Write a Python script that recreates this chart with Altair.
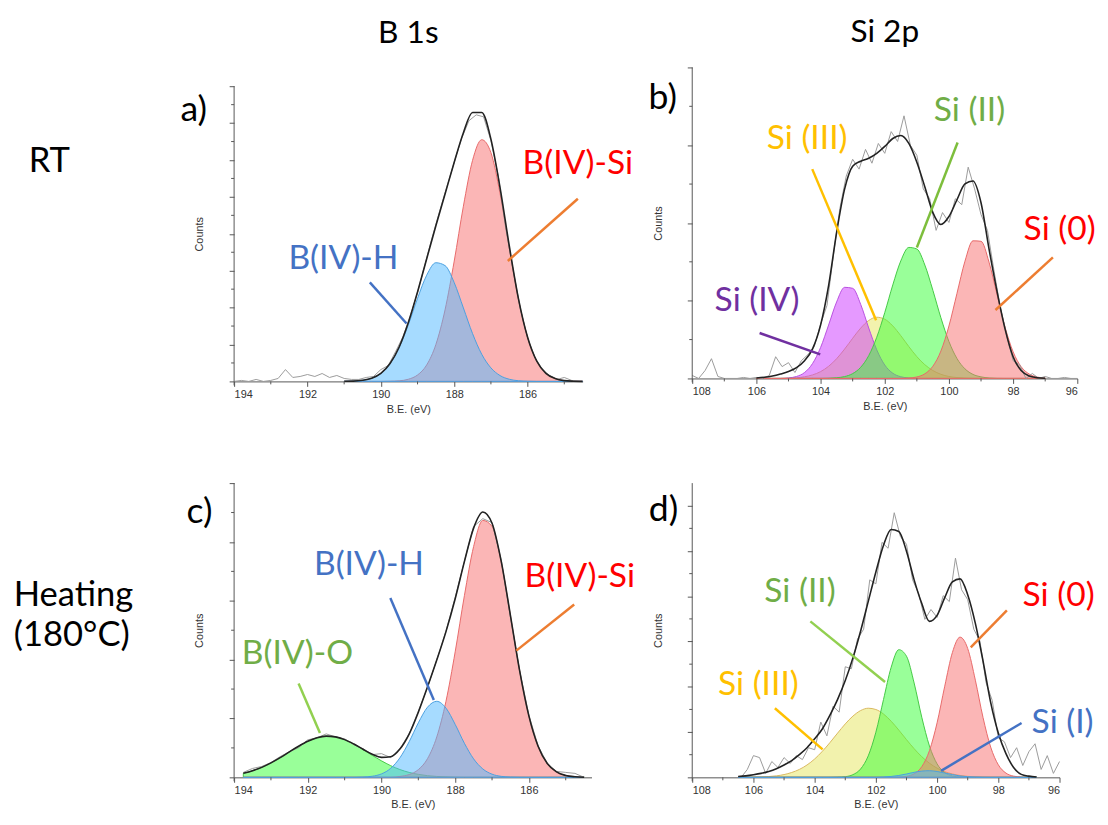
import altair as alt
import pandas as pd

FONT = "Lato"
AXF = "Liberation Sans"

# ---------------- Panel a : B 1s, RT ----------------
A_E = [191.0, 190.75, 190.5, 190.25, 190.0, 189.75, 189.5, 189.25, 189.0, 188.75, 188.5, 188.25, 188.0,
       187.75, 187.5, 187.25, 187.0, 186.75, 186.5, 186.25, 186.0, 185.75, 185.5, 185.25, 185.0, 184.75, 184.5]
A_BSI = [0, 0, 0, 0, 0, 0.2, 0.6, 2.2, 6.5, 16.7, 37.4, 72.5, 121.9, 177.5, 223.9, 244.8, 231.7, 190.1,
         135.2, 83.2, 44.5, 20.5, 8.2, 2.9, 0.8, 0.2, 0]
A_BH = [0.1, 0.3, 1.1, 3.2, 8.1, 17.9, 34.3, 57.4, 84.1, 107.6, 120.2, 117.3, 100.0, 74.4, 48.4, 27.5,
        13.7, 5.9, 2.2, 0.7, 0.2, 0, 0, 0, 0, 0, 0]
A_FIT = [0.2, 0.3, 1.1, 3.2, 8.1, 18.1, 34.9, 59.6, 90.6, 124.3, 157.6, 189.8, 221.9, 251.9, 272.3, 272.3,
         245.4, 196.0, 137.4, 83.9, 44.7, 20.5, 8.2, 2.9, 0.8, 0.2, 0]
A_RAW_E = [194.0, 193.8, 193.6, 193.4, 193.2, 193.0, 192.8, 192.6, 192.4, 192.2, 192.0, 191.8, 191.6, 191.4,
           191.2, 191.0, 190.8, 190.6, 190.4, 190.2, 190.0, 189.8, 189.6, 189.4, 189.2, 189.0, 188.8, 188.6,
           188.4, 188.2, 188.0, 187.8, 187.6, 187.4, 187.2, 187.0, 186.8, 186.6, 186.4, 186.2, 186.0, 185.8,
           185.6, 185.4, 185.2, 185.0, 184.8, 184.6]
A_RAW = [0, 1, 0, 2, 0, 1, 3, 12, 4, 5, 7, 5, 8, 4, 6, 3, 2, 2, 4, 5, 12, 16, 30, 45, 66, 90, 118, 146, 172,
         197, 222, 246, 264, 270, 268, 244, 208, 156, 114, 74, 44, 24, 12, 6, 2, 4, 1, 0]

# ---------------- Panel c : B 1s, heating ----------------
C_E = [193.75, 193.5, 193.25, 193.0, 192.75, 192.5, 192.25, 192.0, 191.75, 191.5, 191.25, 191.0, 190.75,
       190.5, 190.25, 190.0, 189.75, 189.5, 189.25, 189.0, 188.75, 188.5, 188.25, 188.0, 187.75, 187.5,
       187.25, 187.0, 186.75, 186.5, 186.25, 186.0, 185.75, 185.5, 185.25, 185.0, 184.75, 184.5]
C_BO = [4.1, 6.7, 10.1, 14.6, 19.9, 25.8, 31.5, 36.5, 40.1, 41.7, 41.0, 38.2, 33.7, 28.1, 22.2, 16.7, 11.8,
        7.9, 5.0, 3.0, 1.7, 0.9, 0.5, 0.2, 0, 0, 0, 0, 0, 0, 0, 0, 0, 0, 0, 0, 0, 0]
C_BH = [0, 0, 0, 0, 0, 0, 0, 0, 0, 0, 0, 0, 0, 0.3, 1.1, 3.5, 9.1, 19.8, 36.0, 55.2, 71.1, 77.0, 70.1, 53.6,
        34.5, 18.7, 8.5, 3.2, 1.0, 0.3, 0.1, 0, 0, 0, 0, 0, 0, 0]
C_BSI = [0, 0, 0, 0, 0, 0, 0, 0, 0, 0, 0, 0, 0, 0, 0, 0, 0, 0.9, 2.8, 7.8, 19.0, 40.9, 77.0, 127.1, 184.0,
         233.7, 260.2, 254.2, 217.7, 163.5, 107.7, 62.2, 31.5, 14.0, 5.5, 1.9, 0.6, 0.1]
C_FIT = [4.1, 6.7, 10.1, 14.6, 19.9, 25.8, 31.5, 36.5, 40.1, 41.7, 41.0, 38.2, 33.7, 28.4, 23.3, 20.2, 20.9,
         28.6, 43.8, 66.0, 91.8, 118.8, 147.6, 180.9, 218.5, 252.4, 268.7, 257.4, 218.7, 163.8, 107.8, 62.2,
         31.5, 14.0, 5.5, 1.9, 0.6, 0.1]
C_RAW = [5, 9, 11, 15, 21, 26, 30, 38, 40, 44, 41, 39, 33, 29, 23, 24, 20, 29, 44, 67, 91, 119, 148, 182,
         219, 254, 262, 258, 220, 162, 108, 63, 32, 14, 6, 5, 4, 0]

# ---------------- Panel b : Si 2p, RT ----------------
B_E = [106.0, 105.75, 105.5, 105.25, 105.0, 104.75, 104.5, 104.25, 104.0, 103.75, 103.5, 103.25, 103.0,
       102.75, 102.5, 102.25, 102.0, 101.75, 101.5, 101.25, 101.0, 100.75, 100.5, 100.25, 100.0, 99.75,
       99.5, 99.25, 99.0, 98.75, 98.5, 98.25, 98.0, 97.75, 97.5, 97.25, 97.0]
B_S0 = [0] * 19 + [0.4, 1.5, 4.7, 12.4, 27.8, 53.1, 86.1, 118.8, 139.4, 138.9, 117.7, 84.8, 51.9, 27.0,
                   11.9, 4.5, 1.4, 0.4]
B_S2 = [0] * 9 + [0.2, 0.7, 1.9, 4.9, 11.3, 23.1, 41.7, 66.7, 94.7, 119.1, 132.7, 131.1, 114.8, 89.2, 61.4,
                  37.4, 20.2, 9.7, 4.1, 1.6, 0.5, 0.1] + [0] * 6
B_S4 = [0] * 4 + [0.5, 2.0, 6.0, 15.1, 31.3, 54.1, 77.5, 92.3, 91.3, 75.0, 51.1, 29.0, 13.6, 5.3, 1.7, 0.5,
                  0.1] + [0] * 16
B_S3 = [0] * 4 + [0.3, 0.7, 1.7, 3.6, 6.9, 12.3, 20.0, 29.8, 40.7, 51.0, 58.7, 62.0, 60.0, 53.2, 43.3, 32.3,
                  22.1, 13.9, 8.0, 4.2, 2.0, 0.9, 0.4, 0.1] + [0] * 9
B_FIT = [0.5, 1.2, 2.5, 4.5, 7, 11, 18, 30, 54, 94, 148, 192, 215, 220, 223, 228, 235, 243, 246, 238, 219,
         194, 168, 156, 164, 181, 197, 200, 178, 131, 88, 50, 22, 8, 2.5, 0.8, 0.2]
B_RAW_E = [108.0, 107.8, 107.6, 107.4, 107.2, 107.0, 106.8, 106.6, 106.4, 106.2, 106.0, 105.8, 105.6, 105.4,
           105.2, 105.0, 104.8, 104.6, 104.4, 104.2, 104.0, 103.8, 103.6, 103.4, 103.2, 103.0, 102.8, 102.6,
           102.4, 102.2, 102.0, 101.8, 101.6, 101.4, 101.2, 101.0, 100.8, 100.6, 100.4, 100.2, 100.0, 99.8,
           99.6, 99.4, 99.2, 99.0, 98.8, 98.6, 98.4, 98.2, 98.0, 97.8, 97.6, 97.4, 97.2, 97.0, 96.8, 96.6,
           96.4, 96.2, 96.0]
B_RAW = [3, 0, 8, 20, 2, 0, 0, 0, 1, 0, 1, 0, 3, 22, 12, 16, 6, 18, 24, 32, 55, 74, 125, 172, 205, 222, 212,
         232, 218, 238, 228, 250, 240, 266, 236, 226, 192, 182, 150, 168, 158, 182, 176, 214, 192, 166, 150,
         110, 72, 44, 18, 14, 0, 5, 0, 2, 0, 0, 1, 0, 0]

# ---------------- Panel d : Si 2p, heating ----------------
D_E = [106.5, 106.25, 106.0, 105.75, 105.5, 105.25, 105.0, 104.75, 104.5, 104.25, 104.0, 103.75, 103.5,
       103.25, 103.0, 102.75, 102.5, 102.25, 102.0, 101.75, 101.5, 101.25, 101.0, 100.75, 100.5, 100.25,
       100.0, 99.75, 99.5, 99.25, 99.0, 98.75, 98.5, 98.25, 98.0, 97.75, 97.5, 97.25, 97.0, 96.75]
D_S0 = [0] * 21 + [0.2, 1.0, 3.6, 10.8, 27.0, 55.2, 92.3, 126.4, 142.0, 130.5, 98.4, 60.7, 30.7, 12.7, 4.3,
                   1.2, 0.3] + [0, 0]
D_S2 = [0] * 13 + [0.2, 0.7, 2.7, 8.4, 21.7, 45.7, 78.9, 111.5, 129.3, 122.7, 95.5, 60.8, 31.8, 13.6, 4.8,
                   1.4, 0.3] + [0] * 10
D_S3 = [0, 0.1, 0.2, 0.4, 0.8, 1.5, 2.8, 4.9, 8.0, 12.5, 18.6, 26.3, 35.2, 44.8, 54.1, 62.0, 67.6, 70.0, 68.7,
        64.1, 56.8, 47.8, 38.2, 29.0, 20.9, 14.3, 9.3, 5.7, 3.4, 1.9, 1.0, 0.5, 0.2] + [0] * 7
D_S1 = [0] * 19 + [0.4, 0.9, 1.9, 3.4, 5.1, 6.3, 6.7, 5.9, 4.4, 2.8, 1.4, 0.6, 0.3, 0.1] + [0] * 7
D_FIT = [0.8, 1.5, 2.6, 4.0, 6.0, 8.8, 12.5, 17, 23, 30, 39, 49, 63, 79, 98, 121, 148, 178, 208, 235, 251,
         249, 229, 200, 176, 158, 164, 182, 198, 201, 185, 156, 118, 76, 45, 24, 10, 3, 1.2, 0.4]
D_RAW_E = [106.4, 106.2, 106.0, 105.8, 105.6, 105.4, 105.2, 105.0, 104.8, 104.6, 104.4, 104.2, 104.0, 103.8,
           103.6, 103.4, 103.2, 103.0, 102.8, 102.6, 102.4, 102.2, 102.0, 101.8, 101.6, 101.4, 101.2, 101.0,
           100.8, 100.6, 100.4, 100.2, 100.0, 99.8, 99.6, 99.4, 99.2, 99.0, 98.8, 98.6, 98.4, 98.2, 98.0,
           97.8, 97.6, 97.4, 97.2, 97.0, 96.8, 96.6, 96.4, 96.2, 96.0]
D_RAW = [0, 8, 22, 20, 4, 16, 10, 20, 14, 22, 18, 30, 28, 56, 42, 72, 66, 112, 110, 140, 150, 200, 196, 238,
         232, 268, 244, 236, 200, 186, 160, 170, 162, 184, 178, 222, 190, 180, 150, 138, 96, 78, 40, 36, 20,
         30, 12, 26, 34, 8, 22, 4, 16]

# ---------------- annotations ----------------
A_LBL = ["a)", "B(IV)-H", "B(IV)-Si"]
A_LBL_E = [195.1, 191.02, 184.63]
A_LBL_V = [275, 124, 220]
A_LBL_C = ["#000000", "#4472C4", "#FF0000"]
A_LEAD = dict(E=[190.30, 184.63], v=[100.3, 185], E2=[189.30, 186.54], v2=[58.7, 122], c=["#4472C4", "#ED7D31"])
A_ROW = ["RT"]
A_ROW_E = [199.6]
A_ROW_V = [223]

B_LBL = ["b)", "Si (III)", "Si (II)", "Si (0)", "Si (IV)"]
B_LBL_E = [108.92, 104.42, 99.36, 96.55, 105.98]
B_LBL_V = [284, 242, 271, 150, 78]
B_LBL_C = ["#000000", "#FFC000", "#70AD47", "#FF0000", "#7030A0"]
B_LEAD = dict(E=[104.26, 99.73, 96.76, 105.90], v=[212, 239, 122.6, 46], E2=[102.27, 101.0, 98.55, 104.01],
              v2=[59, 132.6, 69.3, 24.3], c=["#FFC000", "#7DBE3C", "#ED7D31", "#7030A0"])

C_LBL = ["c)", "B(IV)-H", "B(IV)-Si", "B(IV)-O"]
C_LBL_E = [194.94, 190.34, 184.62, 192.28]
C_LBL_V = [269, 215, 203, 125]
C_LBL_C = ["#000000", "#4472C4", "#FF0000", "#70AD47"]
C_LEAD = dict(E=[189.76, 184.77, 192.25], v=[181.6, 175, 95], E2=[188.58, 186.34, 191.67], v2=[78.3, 128.3, 45],
              c=["#4472C4", "#ED7D31", "#92D050"])
C_ROW = ["Heating", "(180°C)"]
C_ROW_E = [199.98, 199.98]
C_ROW_V = [185, 144]

D_LBL = ["d)", "Si (II)", "Si (III)", "Si (0)", "Si (I)"]
D_LBL_E = [108.94, 104.48, 105.84, 96.03, 95.9]
D_LBL_V = [271, 188, 93, 184, 55]
D_LBL_C = ["#000000", "#70AD47", "#FFC000", "#FF0000", "#4472C4"]
D_LEAD = dict(E=[104.14, 105.3, 97.72, 97.24], v=[158, 70, 169, 55], E2=[101.7, 103.74, 98.9, 99.87],
              v2=[96.6, 28.3, 131.6, 6.6], c=["#92D050", "#FFC000", "#ED7D31", "#4472C4"])

B1S_MAJ = [194, 192, 190, 188, 186]
B1S_MIN = [193, 191, 189, 187, 185]
SI_MAJ = [108, 106, 104, 102, 100, 98, 96]
SI_MIN = [107, 105, 103, 101, 99, 97]

RED = ("#F76D6D", "#E86A6A")
BLUE = ("#4DB8FF", "#4A9FE0")
GREEN = ("#33FF33", "#45C845")
PURPLE = ("#CC33FF", "#B84FE0")
YELLOW = ("#E6E65C", "#D9B860")
AXC = "#555555"


def panel(W, H, ytop, xdom, xmaj, xmin, ystep, nmaj, comps, fitE, fitV, rawE, rawV,
          lbl, lead, rows=None, ghost=None, title=None):
    xs = alt.Scale(domain=xdom, nice=False, zero=False)
    ys = alt.Scale(domain=[0, H], nice=False, zero=False)
    ymaj = [ystep * k for k in range(nmaj + 1)]
    ymin = [ystep * (k + 0.5) for k in range(nmaj) if ystep * (k + 0.5) < ytop]
    X = alt.X("E:Q", scale=xs, axis=alt.Axis(
        values=xmaj, format="d", title="B.E. (eV)", labelFont=AXF, labelFontSize=11, labelColor="#333",
        titleFont=AXF, titleFontSize=11, titleFontWeight="normal", titleColor="#333", tickSize=5,
        tickColor=AXC, domainColor=AXC, grid=False, labelPadding=2, titlePadding=4))
    Y = alt.Y("v:Q", scale=ys, stack=None, axis=alt.Axis(
        values=ymaj, labels=False, title="Counts", titleFont=AXF, titleFontSize=11, titleFontWeight="normal",
        titleColor="#333", tickSize=5, tickColor=AXC, domain=False, grid=False, titlePadding=24,
        titleY=H - ytop / 2))
    layers = []
    for E, V, (fill, stroke) in comps:
        layers.append(alt.Chart(pd.DataFrame({"E": E, "v": V})).mark_area(
            interpolate="monotone", fill=fill, fillOpacity=0.5, stroke=stroke, strokeWidth=1
        ).encode(x=X, y=Y))
    layers.append(alt.Chart(pd.DataFrame({"E": rawE, "v": rawV})).mark_line(
        color="#9a9a9a", strokeWidth=1).encode(x=X, y=Y))
    layers.append(alt.Chart(pd.DataFrame({"E": fitE, "v": fitV})).mark_line(
        color="#222222", strokeWidth=1.6, interpolate="monotone").encode(x=X, y=Y))
    # y axis line (ends at the top tick), slightly crossing the x axis like the original
    layers.append(alt.Chart(pd.DataFrame({"v": [-4], "v2": [ytop]})).mark_rule(color=AXC, strokeWidth=1).encode(
        y=Y, y2=alt.Y2("v2:Q"), x=alt.value(0)))
    layers.append(alt.Chart(pd.DataFrame({"E": xmin})).mark_rule(color=AXC, strokeWidth=1).encode(
        x=X, y=alt.value(H), y2=alt.value(H + 3)))
    layers.append(alt.Chart(pd.DataFrame({"v": ymin})).mark_rule(color=AXC, strokeWidth=1).encode(
        y=Y, x=alt.value(0), x2=alt.value(-3)))
    layers.append(alt.Chart(pd.DataFrame(lead)).mark_rule(strokeWidth=2.5).encode(
        x=X, y=Y, x2=alt.X2("E2:Q"), y2=alt.Y2("v2:Q"), color=alt.Color("c:N", scale=None)))
    t, e, v, c = lbl
    sizes = [36] + [34] * (len(t) - 1)
    layers.append(alt.Chart(pd.DataFrame({"t": t, "E": e, "v": v, "c": c, "s": sizes})).mark_text(
        font=FONT, align="center", baseline="middle").encode(
        x=X, y=Y, text="t:N", color=alt.Color("c:N", scale=None), size=alt.Size("s:Q", scale=None)))
    if rows:
        t, e, v = rows
        layers.append(alt.Chart(pd.DataFrame({"t": t, "E": e, "v": v})).mark_text(
            font=FONT, align="left", baseline="middle", fontSize=35, color="#000").encode(
            x=X, y=Y, text="t:N"))
    if ghost:
        layers.append(alt.Chart(pd.DataFrame(ghost)).mark_rule(strokeOpacity=0).encode(
            x=X, y=Y, y2=alt.Y2("v2:Q")))
    ch = alt.layer(*layers).properties(width=W, height=H)
    if title:
        ch = ch.properties(title=alt.TitleParams(
            title, font=FONT, fontSize=32, fontWeight="normal", color="#000", anchor="middle",
            frame="group", baseline="alphabetic", offset=-7))
    return ch


pa = panel(353, 318, 299, [194, 184.5], B1S_MAJ, B1S_MIN, 299 / 8, 8,
           [(A_E, A_BSI, RED), (A_E, A_BH, BLUE)], A_E, A_FIT, A_RAW_E, A_RAW,
           (A_LBL, A_LBL_E, A_LBL_V, A_LBL_C), A_LEAD, rows=(A_ROW, A_ROW_E, A_ROW_V),
           ghost=dict(E=[200.03], v=[150], v2=[160]), title="B 1s")
pb = panel(390, 315, 315, [108, 96], SI_MAJ, SI_MIN, 315 / 4, 4,
           [(B_E, B_S3, YELLOW), (B_E, B_S4, PURPLE), (B_E, B_S2, GREEN), (B_E, B_S0, RED)],
           B_E, B_FIT, B_RAW_E, B_RAW, (B_LBL, B_LBL_E, B_LBL_V, B_LBL_C), B_LEAD, title="Si 2p")
pc = panel(362, 298, 298, [194, 184.3], B1S_MAJ, B1S_MIN, 298 / 5, 5,
           [(C_E, C_BO, GREEN), (C_E, C_BSI, RED), (C_E, C_BH, BLUE)], C_E, C_FIT, C_E, C_RAW,
           (C_LBL, C_LBL_E, C_LBL_V, C_LBL_C), C_LEAD, rows=(C_ROW, C_ROW_E, C_ROW_V))
pd_ = panel(372, 298, 298, [108, 96], SI_MAJ, SI_MIN, 298 / 6.5, 6,
            [(D_E, D_S3, YELLOW), (D_E, D_S2, GREEN), (D_E, D_S0, RED), (D_E, D_S1, BLUE)],
            D_E, D_FIT, D_RAW_E, D_RAW, (D_LBL, D_LBL_E, D_LBL_V, D_LBL_C), D_LEAD)

chart = alt.concat(pa, pb, pc, pd_, columns=2, align="none",
                   spacing={"row": 69, "column": 12}).properties(
    padding={"left": 4, "top": 3, "right": 4, "bottom": 4}
).configure_view(stroke=None)

chart.save("out.html", embed_options={"renderer": "svg", "actions": False})
